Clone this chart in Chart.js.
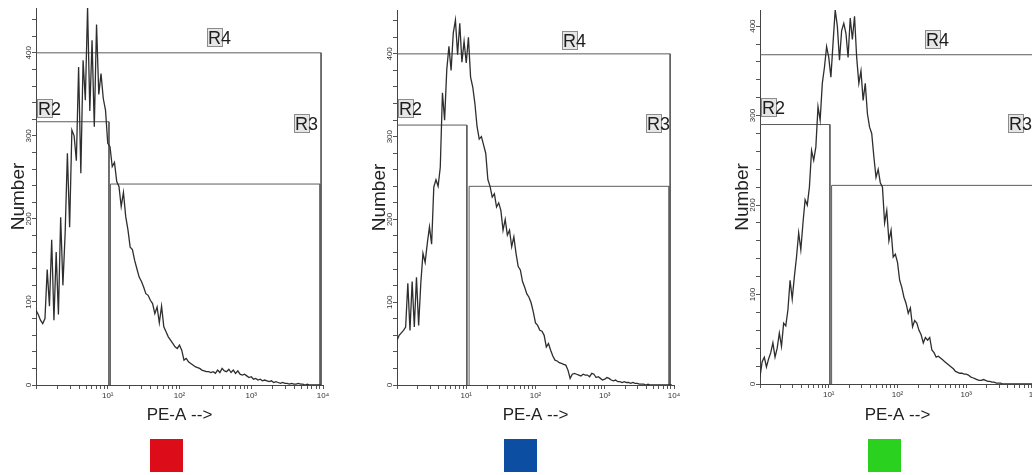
<!DOCTYPE html>
<html><head><meta charset="utf-8">
<script src="https://cdn.jsdelivr.net/npm/chart.js@4"></script>
<style>
html,body{margin:0;padding:0;background:#fff;width:1032px;height:475px;overflow:hidden;position:relative}
canvas{position:absolute;top:0}
.marker{position:absolute;width:33px;height:33px;top:439px}
</style></head><body>
<canvas id="c1" width="340" height="432" style="left:0px"></canvas>
<canvas id="c2" width="330" height="432" style="left:361px"></canvas>
<canvas id="c3" width="328" height="432" style="left:724px"></canvas>
<div class="marker" id="m1" style="left:150px"></div>
<div class="marker" id="m2" style="left:504px"></div>
<div class="marker" id="m3" style="left:868px"></div>
<script>
// histogram channels: 32 per decade, from 10^0 to 10^4
const channelsPerDecade = 32;

const panel1Counts = [90,85,78,74,80,139,95,175,78,160, 85,202,120,183,279,190,307,300,270,383,
  255,391,343,455,330,415,311,434,350,375, 345,331,291,287,263,268,245,239,215,232,
  203,187,166,163,150,140,130,125,118,110, 108,102,98,86,94,75,95,70,64,58,
  54,50,46,44,48,42,30,32,28,26, 24,22,21,20,18,17,16,16,15,16,
  14,18,15,20,17,16,19,15,18,14, 17,13,12,13,11,9,10,7,8,6,
  7,5,6,5,4,5,3,4,3,2, 3,2,2,1,2,1,1,2,1,1, 0,1,0,0,0,0,0,0];

const panel2Counts = [54,60,63,66,70,123,66,125,70,130, 72,123,159,148,171,191,170,239,248,240,
  263,353,320,381,409,380,425,441,399,437, 390,415,389,420,372,360,340,312,297,300,
  290,280,248,240,227,231,215,220,211,187, 200,181,187,167,179,159,143,139,125,118,
  110,106,99,88,75,72,66,65,60,46, 50,42,35,30,29,27,26,25,24,18,
  8,13,14,13,12,11,13,12,12,10, 14,13,9,10,8,6,7,9,8,6,
  5,6,4,4,3,4,3,3,2,3, 2,2,1,1,1,0,1,0,0,0, 0,0,0,0,0,0,0,0];

const panel3Counts = [8,25,30,19,28,35,46,30,40,57, 42,68,65,83,116,95,120,142,169,150,
  180,206,200,220,261,250,265,310,295,336, 354,377,365,343,381,418,400,362,395,403,
  392,365,409,385,411,365,336,350,317,336, 302,287,280,254,231,240,225,220,180,194,
  160,172,142,145,136,116,108,97,90,79, 85,64,71,68,60,55,46,52,49,52,
  38,35,30,31,29,27,25,23,21,19, 17,14,13,12,12,11,11,10,8,7,
  6,5,4,4,5,4,3,3,2,2, 1,1,1,0,0,0,0,0,0,0, 0,0,0,0,0,0,0,0];

// gate outlines (PE-A value, count)
const gateNames = ['R2', 'R3', 'R4'];
const panel1R2 = [[1,317],[10.4,317],[10.4,0]];
const panel1R3 = [[10.9,0],[10.9,242],[9100,242],[9100,0]];
const panel1R4 = [[1,400],[9400,400],[9400,0]];
const panel2R2 = [[1,314],[10.2,314],[10.2,0]];
const panel2R3 = [[11.0,0],[11.0,240],[8500,240],[8500,0]];
const panel2R4 = [[1,400],[8800,400],[8800,0]];
const panel3R2 = [[1,290],[10.4,290],[10.4,0]];
const panel3R3 = [[11.0,0],[11.0,222],[9500,222],[9500,0]];
const panel3R4 = [[1,368],[9600,368],[9600,0]];

// gate label anchors (bottom-left of label box) in data units, order R2, R3, R4
const panel1LabelAnchors = [[1.03,321.7],[3945,303.6],[241,407]];
const panel2LabelAnchors = [[1.03,322.7],[3945,304.5],[241,404.8]];
const panel3LabelAnchors = [[1.03,298],[4050,280],[251,374]];

const yMaxima = [454, 453, 418];
const xTickDecades = [1, 10, 100, 1000, 10000];
const xTickLabels = ['', '10¹', '10²', '10³', '10⁴'];
const xMinorSteps = [2,3,4,5,6,7,8,9];
const yTickStep = 20;
const yLabelStep = 100;
const xTitle = 'PE-A -->';
const yTitle = 'Number';
const markerColors = ['#dc0c18', '#0b4ea2', '#2ad21f'];

const FONT = '"Liberation Sans", Arial, sans-serif';

function histogramPoints(counts) {
  return counts.map((c, i) => ({x: Math.pow(10, i / channelsPerDecade), y: c}));
}
function toPoints(arr) { return arr.map(([x, y]) => ({x, y})); }

const xTickValues = [];
xTickDecades.forEach((d, k) => {
  xTickValues.push(d);
  if (k < xTickDecades.length - 1) xMinorSteps.forEach(m => xTickValues.push(d * m));
});

const gateLabelPlugin = {
  id: 'gateLabels',
  afterDatasetsDraw(chart, args, opts) {
    const {ctx, scales: {x, y}} = chart;
    ctx.save();
    ctx.font = '18px ' + FONT;
    ctx.textBaseline = 'alphabetic';
    ctx.textAlign = 'left';
    opts.anchors.forEach(([vx, vy], k) => {
      const px = Math.round(x.getPixelForValue(vx));
      const py = Math.round(y.getPixelForValue(vy));
      ctx.fillStyle = '#e6e6e6';
      ctx.fillRect(px, py - 19, 15, 19);
      ctx.strokeStyle = '#8c8c8c';
      ctx.lineWidth = 1;
      ctx.strokeRect(px + 0.5, py - 18.5, 15, 18);
      ctx.fillStyle = '#1e1e1e';
      ctx.fillText(opts.names[k], px + 1, py - 3);
    });
    ctx.restore();
  }
};

function makePanel(id, counts, gates, anchors, yMax, topPad, xAxisHeight) {
  const datasets = [{
    data: histogramPoints(counts), borderColor: '#2e2e2e', borderWidth: 1.3,
    pointRadius: 0, tension: 0, fill: false
  }];
  gates.forEach(g => datasets.push({
    data: toPoints(g), borderColor: '#5c5c5c', borderWidth: 1,
    pointRadius: 0, tension: 0, fill: false
  }));
  const axisGrid = {display: true, drawOnChartArea: false, drawTicks: true, tickLength: 4,
    color: '#555', tickColor: '#555', lineWidth: 1};
  const axisBorder = {display: true, color: '#444', width: 1};
  new Chart(document.getElementById(id), {
    type: 'line',
    data: {datasets},
    plugins: [gateLabelPlugin],
    options: {
      responsive: false, animation: false, devicePixelRatio: 1,
      layout: {padding: {top: topPad, right: 17, bottom: 0, left: 0}},
      plugins: {
        legend: {display: false}, tooltip: {enabled: false},
        gateLabels: {anchors, names: gateNames}
      },
      scales: {
        x: {
          type: 'logarithmic', min: 1, max: 10000,
          afterFit(s) { s.height = xAxisHeight; },
          afterBuildTicks(s) { s.ticks = xTickValues.map(v => ({value: v})); },
          grid: axisGrid, border: axisBorder,
          ticks: {
            autoSkip: false, maxRotation: 0, minRotation: 0, padding: 2, color: '#333',
            font: {family: FONT, size: 8},
            callback(v) { const k = xTickDecades.indexOf(v); return k >= 0 ? xTickLabels[k] : ''; }
          },
          title: {display: true, text: xTitle, color: '#222', font: {family: FONT, size: 17},
            padding: {top: 0, bottom: 6}}
        },
        y: {
          type: 'linear', min: 0, max: yMax,
          afterFit(s) { s.width = 36; },
          grid: axisGrid, border: axisBorder,
          ticks: {
            stepSize: yTickStep, includeBounds: false, autoSkip: false,
            minRotation: 90, maxRotation: 90, crossAlign: 'center', padding: -3,
            color: '#333', font: {family: FONT, size: 8},
            callback(v) { return v % yLabelStep === 0 ? String(v) : ''; }
          },
          title: {display: true, text: yTitle, color: '#222', font: {family: FONT, size: 19},
            padding: {top: 7.6, bottom: 0}}
        }
      }
    }
  });
}

makePanel('c1', panel1Counts, [panel1R2, panel1R3, panel1R4], panel1LabelAnchors, yMaxima[0], 8, 47);
makePanel('c2', panel2Counts, [panel2R2, panel2R3, panel2R4], panel2LabelAnchors, yMaxima[1], 10, 47);
makePanel('c3', panel3Counts, [panel3R2, panel3R3, panel3R4], panel3LabelAnchors, yMaxima[2], 10, 48);

['m1', 'm2', 'm3'].forEach((id, k) => { document.getElementById(id).style.background = markerColors[k]; });
</script>
</body></html>
